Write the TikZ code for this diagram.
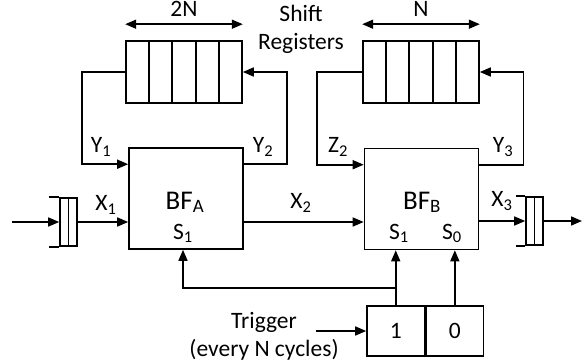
\documentclass[tikz,border=0pt]{standalone}
\usepackage{fontspec}
\setmainfont{Carlito}
\usetikzlibrary{arrows.meta,positioning,calc}

\begin{document}
\begin{tikzpicture}[x=1pt, y=-1pt, line width=1.6pt,
      >={Triangle[length=11pt,width=9pt]},
      lbl/.style={font=\fontsize{23.5}{28}\selectfont, inner sep=0pt},
      big/.style={font=\fontsize{27}{30}\selectfont, inner sep=0pt},
      blk/.style={draw, minimum width=114pt, minimum height=101pt, inner sep=0pt},
      sreg/.style={draw, minimum width=116pt, minimum height=62pt, inner sep=0pt},
      fifo/.style={draw, minimum width=17pt, minimum height=48pt, inner sep=0pt},
      cell/.style={draw, minimum width=57.5pt, minimum height=50pt, inner sep=0pt, font=\fontsize{23.5}{24}\selectfont}
    ]
    \useasboundingbox (0,0) rectangle (582,364);
    % butterfly units
    \node[blk] (bfA) at (186,198.5) {};
    \node[blk] (bfB) at (421.5,199) {};
    \node[big, anchor=base] (bfAname) at (185,209) {BF\textsubscript{A}};
    \node[big, anchor=base] (bfBname) at (422,209) {BF\textsubscript{B}};
    \node[lbl, anchor=base] (sA) at (183,239) {S\textsubscript{1}};
    \node[lbl, anchor=base] (sB1) at (399,239) {S\textsubscript{1}};
    \node[lbl, anchor=base] (sB0) at (452,239) {S\textsubscript{0}};
    % shift registers
    \node[sreg] (regA) at (184,72) {};
    \node[sreg] (regB) at (421,72) {};
    \foreach \r in {regA,regB}
      \foreach \i in {1,...,4}
        \draw ($(\r.north west)!\i/5!(\r.north east)$) -- ($(\r.south west)!\i/5!(\r.south east)$);
    \draw[<->] ([yshift=16pt]regA.north west) -- ([yshift=16pt]regA.north east) node[lbl, midway, above=7pt] (lenA) {2N};
    \draw[<->] ([yshift=16pt]regB.north west) -- ([yshift=16pt]regB.north east) node[lbl, midway, above=7pt] (lenB) {N};
    \node[lbl, align=center] (srtxt) at (301,29) {Shift\\Registers};
    % feedback loops
    \draw[->] (regA.west) -- ++(-43,0) |- ([yshift=-17pt]bfA.north west);
    \draw[->] ([yshift=-17pt]bfA.north east) -- ++(43,0) |- (regA.east);
    \draw[->] (regB.west) -- ++(-45,0) |- ([yshift=-17pt]bfB.north west);
    \draw[->] ([yshift=-17pt]bfB.north east) -- ++(44,0) |- (regB.east);
    \node[lbl] (y1) at (101,147) {Y\textsubscript{1}};
    \node[lbl] (y2) at (263,147) {Y\textsubscript{2}};
    \node[lbl] (z2) at (338,147) {Z\textsubscript{2}};
    \node[lbl] (y3) at (503,147) {Y\textsubscript{3}};
    % input / output queues
    \node[fifo] (qin) at (68.5,222) {};
    \draw (qin.north) -- (qin.south);
    \draw (qin.north west) -- ++(-10,0) (qin.south west) -- ++(-10,0);
    \coordinate (src) at (12,222);
    \draw[->] (src) -- (qin.west);
    \draw[->] (qin.east) -- (qin.east -| bfA.west);
    \draw[->] (bfA.east |- qin.east) -- (bfB.west |- qin.east);
    \node[fifo] (qout) at (534.5,221) {};
    \draw (qout.north) -- (qout.south);
    \draw (qout.north west) -- ++(-9,0) (qout.south west) -- ++(-9,0);
    \coordinate (dst) at (582,221);
    \draw[->] (bfB.east |- qout.west) -- (qout.west);
    \draw[->] (qout.east) -- (dst);
    \node[lbl] (x1) at (106,205) {X\textsubscript{1}};
    \node[lbl] (x2) at (301,203) {X\textsubscript{2}};
    \node[lbl] (x3) at (502,201) {X\textsubscript{3}};
    % trigger
    \node[cell] (trig1) at (395.75,331) {1};
    \node[cell, right=0pt of trig1] (trig0) {0};
    \node[lbl, align=center] (trigtxt) at (264,336) {Trigger\\(every N cycles)};
    \draw[->] ([xshift=-50pt]trig1.west) -- (trig1.west);
    \coordinate (br) at ($(trig1.north)+(0,-17)$);
    \draw[->] (trig1.north) -- (trig1.north |- bfB.south);
    \draw[->] (br) -| ([xshift=-3pt]bfA.south);
    \draw[->] (trig0.north) -- (trig0.north |- bfB.south);
  \end{tikzpicture}
\end{document}
